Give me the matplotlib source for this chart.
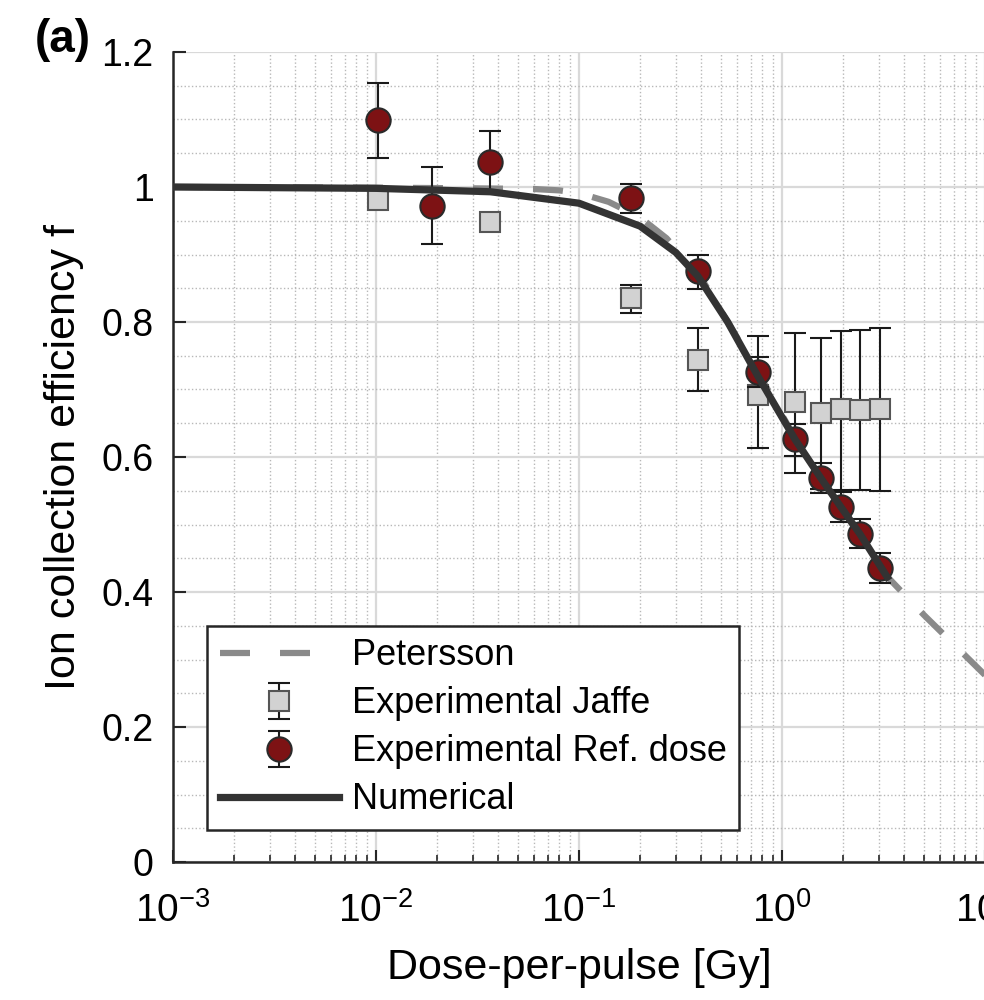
import numpy as np
import matplotlib
matplotlib.use("Agg")
import matplotlib.pyplot as plt
from matplotlib.ticker import FixedLocator, NullFormatter, LogLocator

plt.rcParams["font.family"] = ["Liberation Sans", "DejaVu Sans"]

# Petersson model curve
dose_pet = [0.001, 0.01, 0.03, 0.06, 0.08, 0.1, 0.14, 0.2, 0.27, 0.4, 0.76, 1.16, 1.56, 2.42, 3.04, 5.0, 10.0]
f_pet = [1.0, 0.999, 0.998, 0.997, 0.995, 0.991, 0.978, 0.955, 0.924, 0.865, 0.726, 0.628, 0.567, 0.484, 0.434, 0.366, 0.277]

# Numerical curve
dose_num = [0.001, 0.01, 0.0365, 0.1, 0.2, 0.3, 0.385, 0.54, 0.76, 1.16, 1.56, 1.95, 2.42, 3.3]
f_num = [1.0, 0.998, 0.993, 0.976, 0.942, 0.903, 0.868, 0.8, 0.72, 0.626, 0.568, 0.526, 0.486, 0.422]

# Experimental Jaffe
dose_jaffe = [0.0102, 0.0365, 0.18, 0.385, 0.762, 1.16, 1.56, 1.95, 2.42, 3.04]
f_jaffe = [0.981, 0.948, 0.836, 0.744, 0.692, 0.681, 0.665, 0.671, 0.670, 0.671]
hi_jaffe = [0.988, 0.959, 0.855, 0.791, 0.779, 0.784, 0.776, 0.787, 0.788, 0.791]
lo_jaffe = [0.975, 0.937, 0.813, 0.698, 0.613, 0.576, 0.553, 0.551, 0.551, 0.550]

# Experimental reference dose
dose_ref = [0.0102, 0.0189, 0.0365, 0.18, 0.385, 0.762, 1.16, 1.56, 1.95, 2.42, 3.04]
f_ref = [1.099, 0.972, 1.037, 0.984, 0.876, 0.726, 0.627, 0.569, 0.526, 0.486, 0.436]
hi_ref = [1.154, 1.029, 1.083, 1.004, 0.900, 0.748, 0.649, 0.591, 0.548, 0.508, 0.458]
lo_ref = [1.043, 0.916, 0.990, 0.961, 0.849, 0.704, 0.601, 0.547, 0.504, 0.465, 0.413]

xticks = [1e-3, 1e-2, 1e-1, 1e0, 1e1]
xticklabels = [r"$\mathregular{10^{-3}}$", r"$\mathregular{10^{-2}}$", r"$\mathregular{10^{-1}}$",
               r"$\mathregular{10^{0}}$", r"$\mathregular{10^{1}}$"]
yticks = [0, 0.2, 0.4, 0.6, 0.8, 1, 1.2]
yticklabels = ["0", "0.2", "0.4", "0.6", "0.8", "1", "1.2"]

fig = plt.figure(figsize=(9.84, 10), dpi=100)
ax = fig.add_axes([0.1758, 0.138, 0.8252, 0.81])

ax.plot(dose_pet, f_pet, color="#8a8a8a", lw=4.5, linestyle=(0, (4.8, 4.8)),
        label="Petersson", zorder=3)

f_j = np.array(f_jaffe)
ax.errorbar(dose_jaffe, f_j, yerr=[f_j - np.array(lo_jaffe), np.array(hi_jaffe) - f_j],
            fmt="s", ms=14, mfc="#d2d2d2", mec="#555555", mew=1.5,
            ecolor="#1a1a1a", elinewidth=1.5, capsize=8, capthick=1.5,
            label="Experimental Jaffe", zorder=4)

f_r = np.array(f_ref)
ax.errorbar(dose_ref, f_r, yerr=[f_r - np.array(lo_ref), np.array(hi_ref) - f_r],
            fmt="o", ms=17.5, mfc="#7d1214", mec="#2a2a2a", mew=1.5,
            ecolor="#1a1a1a", elinewidth=1.5, capsize=8, capthick=1.5,
            label="Experimental Ref. dose", zorder=5)

ax.plot(dose_num, f_num, color="#333333", lw=5.2, label="Numerical", zorder=6)

ax.set_xscale("log")
ax.set_xlim(1e-3, 1e1)
ax.set_ylim(0, 1.2)

ax.xaxis.set_major_locator(FixedLocator(xticks))
ax.set_xticklabels(xticklabels)
ax.xaxis.set_minor_locator(LogLocator(base=10, subs=np.arange(2, 10)))
ax.xaxis.set_minor_formatter(NullFormatter())
ax.set_yticks(yticks)
ax.set_yticklabels(yticklabels)
ax.set_yticks(np.arange(0, 1.21, 0.05), minor=True)

ax.tick_params(axis="both", which="major", direction="in", length=9, width=1.5,
               colors="#262626")
ax.tick_params(axis="x", which="major", labelsize=28, pad=22)
ax.tick_params(axis="y", which="major", labelsize=27, pad=14)
ax.tick_params(axis="x", which="minor", direction="in", length=5, width=1.2, colors="#262626")
ax.tick_params(axis="y", which="minor", length=0)
for lab in ax.get_xticklabels() + ax.get_yticklabels():
    lab.set_color("black")

ax.grid(True, which="major", color="#d9d9d9", lw=1.6, linestyle="-")
ax.grid(True, which="minor", color="#b8b8b8", lw=1.0, linestyle=":")
ax.set_axisbelow(True)

for side in ["top", "right"]:
    ax.spines[side].set_visible(False)
for side in ["left", "bottom"]:
    ax.spines[side].set_color("#262626")
    ax.spines[side].set_linewidth(1.8)

ax.set_xlabel("Dose-per-pulse [Gy]", fontsize=31)
ax.set_ylabel("Ion collection efficiency f", fontsize=31)
ax.xaxis.set_label_coords(0.5, -0.131)
ax.xaxis.label.set_verticalalignment("center")
ax.yaxis.set_label_coords(-0.134, 0.5)
ax.yaxis.label.set_verticalalignment("center")

# legend order as in the original: Petersson, Jaffe, Ref. dose, Numerical
handles, labels = ax.get_legend_handles_labels()
order = [labels.index(n) for n in ["Petersson", "Experimental Jaffe",
                                   "Experimental Ref. dose", "Numerical"]]
leg = ax.legend([handles[i] for i in order], [labels[i] for i in order],
                loc="lower left", bbox_to_anchor=(0.042, 0.0395), borderaxespad=0,
                fontsize=26, handlelength=3.3, handletextpad=0.35, borderpad=0.35,
                labelspacing=0.36, fancybox=False, framealpha=1, edgecolor="#262626")
leg.get_frame().set_linewidth(1.8)

fig.text(0.035, 0.982, "(a)", fontsize=33, fontweight="bold", va="top", ha="left")

fig.savefig("out.png", dpi=100)
